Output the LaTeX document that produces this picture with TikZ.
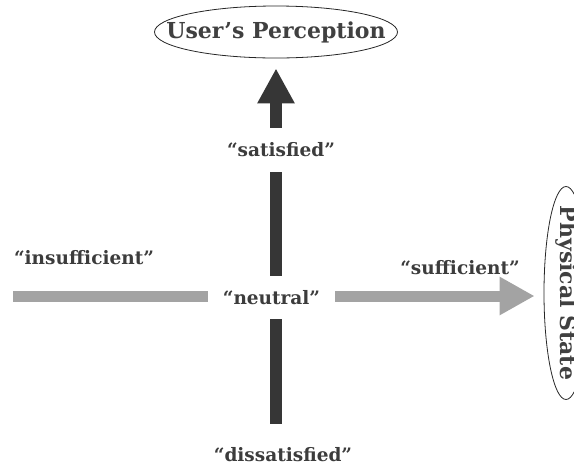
\documentclass[tikz,border=0pt]{standalone}
\usepackage{fontspec}
\setmainfont{DejaVu Serif}
\usetikzlibrary{arrows.meta,shapes.geometric}
\definecolor{darkbar}{HTML}{363636}
\definecolor{lightbar}{HTML}{A3A3A3}
\definecolor{labelgray}{HTML}{3C3C3C}
\tikzset{
  axisname/.style={ellipse, draw=black!85, line width=0.8pt, inner sep=0pt,
    text=black!75, font=\bfseries\fontsize{22}{24}\selectfont},
  valuelabel/.style={inner sep=0pt, text=labelgray,
    font=\bfseries\fontsize{18.5}{20}\selectfont},
  perceptbar/.style={draw=darkbar, line width=12pt},
  physbar/.style={draw=lightbar, line width=11pt},
}
% centred text that does not widen its ellipse
\newcommand{\slimtext}[1]{\makebox[0pt]{#1}}
\begin{document}
\begin{tikzpicture}[x=1pt,y=-1pt]
\useasboundingbox (0,0) rectangle (574,467);

% axis names
\node[axisname, minimum width=243pt, minimum height=52pt] (perc) at (276,32) {\slimtext{User’s Perception}};
\node[axisname, rotate=-90, minimum width=213pt, minimum height=44pt] (phys) at (566,293) {\slimtext{Physical State}};

% values along the axes
\node[valuelabel, minimum height=44pt] (sat) at (281,150) {“satisfied”};
\node[valuelabel, minimum width=127pt, minimum height=43pt] (neutral) at (271.5,297.5) {“neutral”};
\node[valuelabel] (dissat) at (283,455) {“dissatisfied”};
\node[valuelabel] (insuff) at (84,258) {“insufficient”};
\node[valuelabel] (suff) at (460,268) {“sufficient”};

\coordinate (vbot) at (276,424);
\coordinate (hleft) at (13,296);

% perception axis (vertical)
\draw[perceptbar] (neutral.south -| perc.south) -- (vbot);
\draw[perceptbar] (neutral.north -| perc.south) -- (sat.south -| perc.south);
\draw[perceptbar, -{Triangle[length=35pt, width=35pt]}, shorten >=10pt]
  (sat.north -| perc.south) -- (perc.south);

% physical-state axis (horizontal)
\draw[physbar] (hleft) -- (neutral.west |- hleft);
\draw[physbar, -{Triangle[length=35pt, width=36pt]}, shorten >=9pt]
  (neutral.east |- hleft) -- (phys.south |- hleft);
\end{tikzpicture}
\end{document}
